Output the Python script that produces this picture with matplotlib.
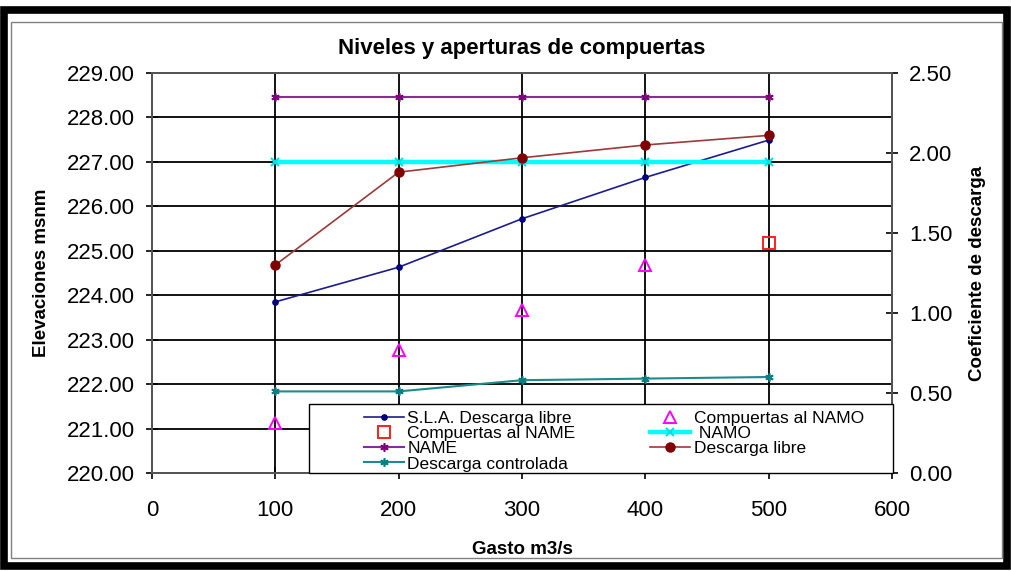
import matplotlib
matplotlib.use("Agg")
import matplotlib.pyplot as plt
from matplotlib.patches import Rectangle
from matplotlib.ticker import FormatStrFormatter, MultipleLocator

plt.rcParams['font.family'] = ['Liberation Sans', 'DejaVu Sans']

# Gasto (m3/s)
gasto = [100, 200, 300, 400, 500]

# Elevaciones (msnm)
sla_descarga_libre = [223.85, 224.63, 225.72, 226.65, 227.49]
name_nivel = [228.45, 228.45, 228.45, 228.45, 228.45]
namo_nivel = [227.0, 227.0, 227.0, 227.0, 227.0]

# Coeficientes de descarga y aperturas
descarga_libre = [1.30, 1.88, 1.97, 2.05, 2.11]
descarga_controlada = [0.51, 0.51, 0.58, 0.59, 0.60]
compuertas_namo = [0.31, 0.77, 1.02, 1.30]
gasto_namo = [100, 200, 300, 400]
compuertas_name = [1.44]
gasto_name = [500]

fig = plt.figure(figsize=(10.12, 5.71), dpi=100)
fig.patch.set_facecolor('white')

# Outer frame of the chart object
fig.add_artist(Rectangle((0.004, 0.008), 0.991, 0.975, transform=fig.transFigure,
                         fill=False, edgecolor='black', lw=5.5))
fig.add_artist(Rectangle((0.011, 0.023), 0.979, 0.939, transform=fig.transFigure,
                         fill=False, edgecolor='#808080', lw=1.0))

ax = fig.add_axes([0.1502, 0.1716, 0.7312, 0.7006])
ax2 = ax.twinx()

ax.set_xlim(0, 600)
ax.set_ylim(220, 229)
ax2.set_ylim(0, 2.5)

ax.xaxis.set_major_locator(MultipleLocator(100))
ax.yaxis.set_major_locator(MultipleLocator(1))
ax2.yaxis.set_major_locator(MultipleLocator(0.5))
ax.yaxis.set_major_formatter(FormatStrFormatter('%.2f'))
ax2.yaxis.set_major_formatter(FormatStrFormatter('%.2f'))

ax.grid(True, color='black', lw=1.3)
ax.set_axisbelow(True)

for a in (ax, ax2):
    for s in a.spines.values():
        s.set_linestyle((0, (2, 1)))
        s.set_color('#555555')
        s.set_linewidth(1.4)

ax.tick_params(axis='both', direction='inout', length=9, width=1.2, labelsize=16)
ax.tick_params(axis='y', pad=8)
ax.tick_params(axis='x', pad=15)
ax2.tick_params(axis='y', direction='inout', length=9, width=1.2, labelsize=16, pad=8)

l_sla, = ax.plot(gasto, sla_descarga_libre, color='#1c1c8a', lw=1.2,
                 marker='o', ms=3.8, mfc='#000080', mec='#000080')
l_name, = ax.plot(gasto, name_nivel, color='#8a2b9a', lw=1.5,
                  marker=(6, 2, 0), ms=6, mec='#800080', mew=1.2)
l_namo, = ax.plot(gasto, namo_nivel, color='#00ffff', lw=3.2,
                  marker='x', ms=5.5, mec='#00e0e0', mew=1.5)

l_libre, = ax2.plot(gasto, descarga_libre, color='#9a3a3a', lw=1.2,
                    marker='o', ms=6.5, mfc='#800000', mec='#800000')
l_contr, = ax2.plot(gasto, descarga_controlada, color='#1f8a8a', lw=1.5,
                    marker=(6, 2, 0), ms=6, mec='#008080', mew=1.2)
l_cnamo, = ax2.plot(gasto_namo, compuertas_namo, ls='none', marker='^', ms=8,
                    mfc='none', mec='#ff00ff', mew=1.4)
l_cname, = ax2.plot(gasto_name, compuertas_name, ls='none', marker='s', ms=8,
                    mfc='none', mec='#ff2020', mew=1.4)

# Legend box spanning from the plot area to the secondary axis
ax2.add_patch(Rectangle((0.2122, 0.0), 0.7892, 0.1725, transform=ax2.transAxes,
                        facecolor='white', edgecolor='black', lw=1.0,
                        clip_on=False, zorder=9))

handles = [l_sla, l_cname, l_name, l_contr, l_cnamo, l_namo, l_libre]
labels = ['S.L.A. Descarga libre', 'Compuertas al NAME', 'NAME',
          'Descarga controlada', 'Compuertas al NAMO', ' NAMO', 'Descarga libre']
leg = ax2.legend(handles, labels, ncol=2, loc='upper left',
                 bbox_to_anchor=(0.277, 0.1725), borderaxespad=0,
                 fontsize=12.5, labelspacing=0.0, borderpad=0.4,
                 handlelength=2.3, handletextpad=0.2, columnspacing=4.3,
                 frameon=False)
leg.set_zorder(10)

ax.set_title('Niveles y aperturas de compuertas', fontsize=16, fontweight='bold', pad=14)
ax.set_xlabel('Gasto m3/s', fontsize=13.5, fontweight='bold', labelpad=14)
ax.set_ylabel('Elevaciones msnm', fontsize=13.5, fontweight='bold', labelpad=12)
ax2.set_ylabel('Coeficiente de descarga', fontsize=13.5, fontweight='bold', labelpad=12)

fig.savefig('out.png', dpi=100)
